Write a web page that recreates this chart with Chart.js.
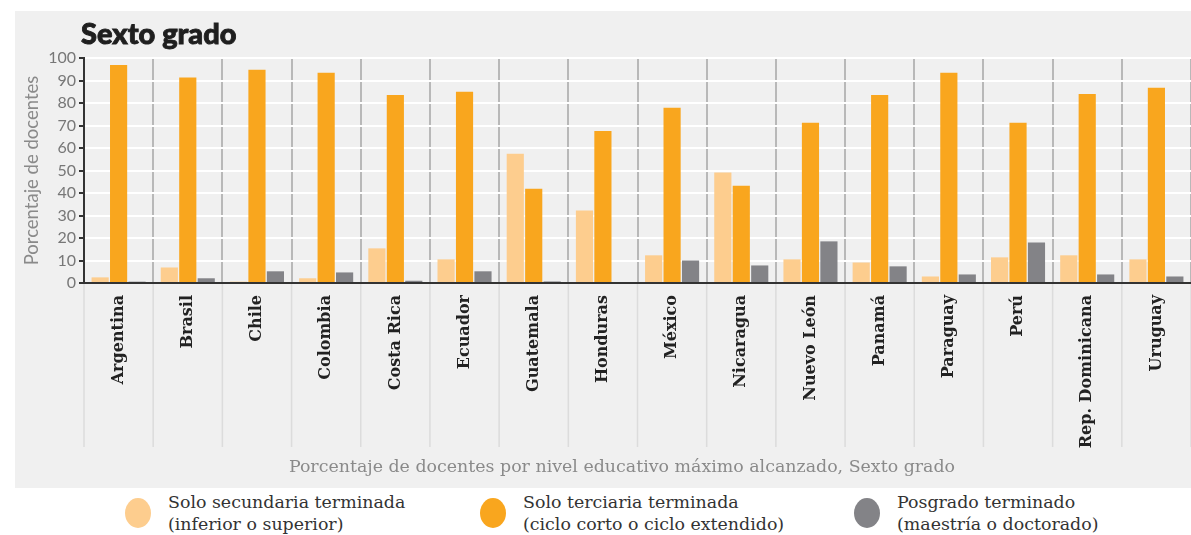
<!DOCTYPE html>
<html>
<head>
<meta charset="utf-8">
<script src="https://cdn.jsdelivr.net/npm/chart.js@4"></script>
<style>
  body { margin: 0; background: #fff; width: 1191px; height: 535px; position: relative; overflow: hidden; }
  #panel { position: absolute; left: 15px; top: 11px; width: 1176px; height: 477px; background: #f0f0f0; }
  #title { position: absolute; left: 66px; top: 4px; font: 900 29px Lato, sans-serif; color: #1f1f1f; -webkit-text-stroke: 0.9px #1f1f1f; }
  #xtitle { position: absolute; left: 0; width: 1244px; top: 455px; text-align: center; font: 17.4px "DejaVu Serif", serif; color: #8a8a8a; line-height: 22px; }
  .leg { position: absolute; top: 491px; display: flex; align-items: center; font: 17.4px "DejaVu Serif", serif; color: #333; line-height: 22px; }
  .leg span.dot { width: 26px; height: 30px; border-radius: 50%; margin-right: 17px; }
</style>
</head>
<body>
<div id="panel">
  <canvas id="chart" width="1176" height="477"></canvas>
  <div id="title">Sexto grado</div>
</div>
<div id="xtitle">Porcentaje de docentes por nivel educativo máximo alcanzado, Sexto grado</div>
<div class="leg" style="left:125px"><span class="dot" style="background:#fdcd8e"></span><div>Solo secundaria terminada<br>(inferior o superior)</div></div>
<div class="leg" style="left:480px"><span class="dot" style="background:#f9a61e"></span><div>Solo terciaria terminada<br>(ciclo corto o ciclo extendido)</div></div>
<div class="leg" style="left:854px"><span class="dot" style="background:#838387"></span><div>Posgrado terminado<br>(maestría o doctorado)</div></div>
<script>
  const countries = ['Argentina', 'Brasil', 'Chile', 'Colombia', 'Costa Rica', 'Ecuador', 'Guatemala', 'Honduras',
    'México', 'Nicaragua', 'Nuevo León', 'Panamá', 'Paraguay', 'Perú', 'Rep. Dominicana', 'Uruguay'];
  const secundaria = [2.5, 6.9, 0.6, 2.1, 15.4, 10.5, 57.4, 32.2, 12.3, 49.1, 10.5, 9.1, 2.9, 11.4, 12.3, 10.5];
  const terciaria = [96.9, 91.3, 94.8, 93.5, 83.6, 85.0, 41.9, 67.6, 77.9, 43.2, 71.2, 83.6, 93.5, 71.2, 84.0, 86.8];
  const posgrado = [0.6, 2.1, 5.2, 4.7, 1.0, 5.2, 0.7, 0, 10.0, 7.8, 18.5, 7.4, 3.8, 18.0, 3.8, 2.9];

  // lighter separators that continue below the axis through the labels
  const separators = {
    id: 'separators',
    afterDraw(chart) {
      const x = chart.scales.x, ctx = chart.ctx;
      const step = x.getPixelForValue(1) - x.getPixelForValue(0);
      ctx.save();
      ctx.strokeStyle = '#dcdcdc';
      ctx.lineWidth = 1.5;
      for (let i = 0; i <= countries.length; i++) {
        const px = x.getPixelForValue(i) - step / 2;
        ctx.beginPath();
        ctx.moveTo(px, chart.chartArea.bottom + 1);
        ctx.lineTo(px, chart.chartArea.bottom + 164);
        ctx.stroke();
      }
      ctx.restore();
    }
  };

  const ctx = document.getElementById('chart').getContext('2d');
  new Chart(ctx, {
    type: 'bar',
    data: {
      labels: countries,
      datasets: [
        { label: 'Solo secundaria terminada', data: secundaria, backgroundColor: '#fdcd8e' },
        { label: 'Solo terciaria terminada', data: terciaria, backgroundColor: '#f9a61e' },
        { label: 'Posgrado terminado', data: posgrado, backgroundColor: '#838387' }
      ]
    },
    options: {
      responsive: false,
      animation: false,
      devicePixelRatio: 1,
      categoryPercentage: 0.8,
      barPercentage: 0.93,
      layout: { padding: { top: 47, right: 0, bottom: 10, left: 0 } },
      plugins: {
        legend: { display: false },
        tooltip: { enabled: false }
      },
      scales: {
        x: {
          afterFit(s) { s.height = 195; },
          grid: { offset: true, color: '#b8b8b8', lineWidth: 2, drawTicks: false },
          border: { color: '#333', width: 2 },
          ticks: {
            minRotation: 90, maxRotation: 90, padding: 12, autoSkip: false,
            color: '#222', font: { family: 'DejaVu Serif', weight: 'bold', size: 16 }
          }
        },
        y: {
          min: 0, max: 100,
          afterFit(s) { s.width = 69; },
          grid: { color: '#ffffff', lineWidth: 2, tickColor: '#333', tickLength: 5 },
          border: { color: '#333', width: 2 },
          ticks: { stepSize: 10, padding: 3, color: '#777', font: { family: 'Lato', size: 16 } },
          title: {
            display: true, text: 'Porcentaje de docentes',
            color: '#8a8a8a', font: { family: 'Lato', size: 18.5 },
            padding: { top: 6, bottom: 0 }
          }
        }
      }
    },
    plugins: [separators]
  });
</script>
</body>
</html>
